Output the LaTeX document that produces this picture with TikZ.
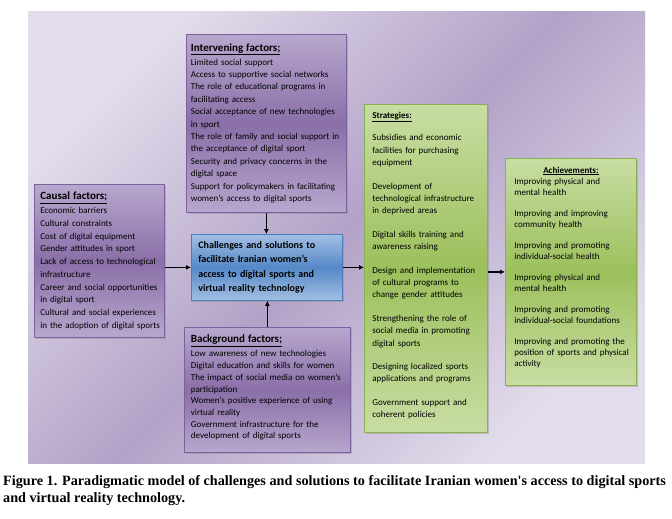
\documentclass[tikz,border=0pt]{standalone}
\usepackage{fontspec}
\setmainfont{Carlito}
\newfontfamily\capfont{Liberation Serif}
\usepackage{tikz}
\usetikzlibrary{positioning, arrows.meta, shadows}

\definecolor{panellight}{HTML}{E3DDEB}
\definecolor{paneldark}{HTML}{B2A2C8}
\definecolor{purpleline}{HTML}{7D619E}
\definecolor{purpletop}{HTML}{B7A7CD}
\definecolor{purplemid}{HTML}{8A6FA8}
\definecolor{greenline}{HTML}{8CB04D}
\definecolor{greentop}{HTML}{C8DDA3}
\definecolor{greenmid}{HTML}{9CC05C}
\definecolor{blueline}{HTML}{4A7EBB}
\definecolor{bluetop}{HTML}{A3BFE3}
\definecolor{bluemid}{HTML}{5588C8}

\newcommand{\bighead}[1]{{\fontsize{11}{13}\selectfont\bfseries\underline{#1}}}
\newcommand{\smallhead}[1]{{\bfseries\underline{#1}}}

\begin{document}
\begin{tikzpicture}[x=1pt,y=-1pt]
	\tikzstyle{box}=[draw, line width=0.8pt, inner ysep=0pt, align=left, anchor=north west,
		font=\fontsize{9}{12.4}\selectfont,
		drop shadow={opacity=0.35, shadow xshift=1.5pt, shadow yshift=-1.5pt}]
	\tikzstyle{purplebox}=[box, draw=purpleline, top color=purpletop, bottom color=purpletop, middle color=purplemid]
	\tikzstyle{greenbox}=[box, draw=greenline, top color=greentop, bottom color=greentop, middle color=greenmid]
	\tikzstyle{bluebox}=[box, draw=blueline, top color=bluetop, bottom color=bluetop, middle color=bluemid,
		font=\fontsize{10}{14.4}\selectfont\bfseries]
	\tikzstyle{arrow}=[line width=1.3pt, -{Latex[length=5pt,width=5pt]}]
	\useasboundingbox (0,0) rectangle (672,519);
	% background panel
	\fill[shading=axis, top color=panellight, bottom color=panellight, middle color=paneldark, shading angle=45]
		(28,12) rectangle (645,463);
	% boxes
	\node[purplebox, text width=151pt, inner xsep=4.5pt, minimum height=178pt](interv) at (186,34){
		\bighead{Intervening factors;}\\[1.3pt]
		Limited social support\\
		Access to supportive social networks\\
		The role of educational programs in\\
		facilitating access\\
		Social acceptance of new technologies\\
		in sport\\
		The role of family and social support in\\
		the acceptance of digital sport\\
		Security and privacy concerns in the\\
		digital space\\
		Support for policymakers in facilitating\\
		women's access to digital sports};
	\node[purplebox, text width=122pt, inner xsep=4pt, minimum height=153pt,
		font=\fontsize{9}{12.7}\selectfont](causal) at (34,184){
		\hspace*{2pt}\bighead{Causal factors;}\\[1.3pt]
		\hspace*{2pt}Economic barriers\\
		\hspace*{2pt}Cultural constraints\\
		\hspace*{2pt}Cost of digital equipment\\
		\hspace*{2pt}Gender attitudes in sport\\
		\hspace*{2pt}Lack of access to technological\\
		\hspace*{2pt}infrastructure\\
		\hspace*{2pt}Career and social opportunities\\
		\hspace*{2pt}in digital sport\\
		\hspace*{2pt}Cultural and social experiences\\
		\hspace*{2pt}in the adoption of digital sports};
	\node[bluebox, text width=137pt, inner xsep=7pt, minimum height=66pt](center) at (191,234){
		Challenges and solutions to\\
		facilitate Iranian women's\\
		access to digital sports and\\
		virtual reality technology};
	\node[purplebox, text width=153pt, inner xsep=6.5pt, minimum height=125pt,
		font=\fontsize{9}{11.7}\selectfont](backg) at (184,327){
		\bighead{Background factors;}\\[2.3pt]
		Low awareness of new technologies\\
		Digital education and skills for women\\
		The impact of social media on women's\\
		participation\\
		Women's positive experience of using\\
		virtual reality\\
		Government infrastructure for the\\
		development of digital sports\\[-6pt]
		\mbox{}};
	\node[greenbox, text width=107pt, inner xsep=8pt, minimum height=328pt](strat) at (364,104){
		\smallhead{Strategies:}\\[10.3pt]
		Subsidies and economic\\
		facilities for purchasing\\
		equipment\\[11pt]
		Development of\\
		technological infrastructure\\
		in deprived areas\\[11pt]
		Digital skills training and\\
		awareness raising\\[11pt]
		Design and implementation\\
		of cultural programs to\\
		change gender attitudes\\[11pt]
		Strengthening the role of\\
		social media in promoting\\
		digital sports\\[11pt]
		Designing localized sports\\
		applications and programs\\[11pt]
		Government support and\\
		coherent policies\\[-5pt]
		\mbox{}};
	\node[greenbox, text width=121pt, inner xsep=5pt, minimum height=227pt,
		font=\fontsize{9}{11}\selectfont](achiev) at (505,158){
		\hspace*{4pt}\makebox[113pt][c]{\smallhead{Achievements:}}\\
		\hspace*{4pt}Improving physical and\\
		\hspace*{4pt}mental health\\[10pt]
		\hspace*{4pt}Improving and improving\\
		\hspace*{4pt}community health\\[10pt]
		\hspace*{4pt}Improving and promoting\\
		\hspace*{4pt}individual-social health\\[10pt]
		\hspace*{4pt}Improving physical and\\
		\hspace*{4pt}mental health\\[10pt]
		\hspace*{4pt}Improving and promoting\\
		\hspace*{4pt}individual-social foundations\\[10pt]
		\hspace*{4pt}Improving and promoting the\\
		\hspace*{4pt}position of sports and physical\\
		\hspace*{4pt}activity\\
		\mbox{}};
	% connectors
	\path[arrow]
		(center.west -| causal.east) edge (center.west)
		(interv.south) edge (interv.south |- center.north)
		(backg.north) edge (backg.north |- center.south)
		(center.east) edge (center.east -| strat.west)
		(achiev.west -| strat.east) edge (achiev.west);
	% caption
	\node[anchor=north west, inner sep=0pt, align=left,
		font=\capfont\bfseries\fontsize{14.2}{17}\selectfont](caption) at (3,475){
		Figure 1. Paradigmatic model of challenges and solutions to facilitate Iranian women's access to digital sports\\
		and virtual reality technology.};
\end{tikzpicture}
\end{document}
